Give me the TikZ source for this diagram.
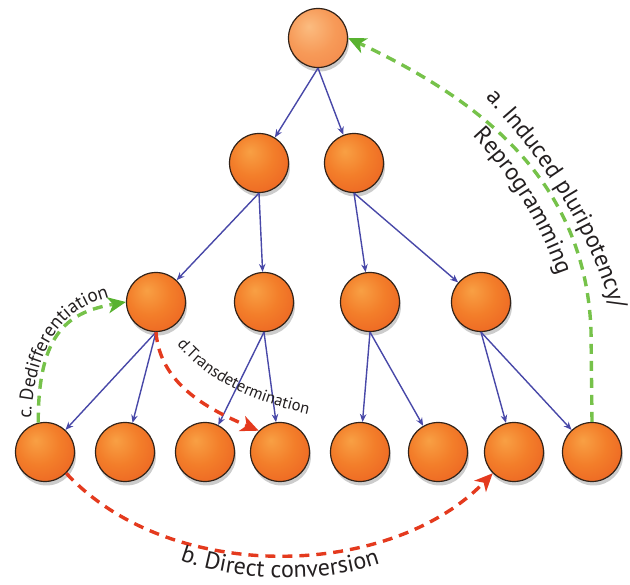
\documentclass[tikz,border=0pt]{standalone}
\usepackage{fontspec}
\setmainfont{PT Sans}
\usetikzlibrary{arrows.meta,decorations.text,shadows}
\definecolor{cellA}{RGB}{248,160,68}
\definecolor{cellB}{RGB}{243,126,42}
\definecolor{cellC}{RGB}{226,58,22}
\definecolor{topA}{RGB}{251,188,128}
\definecolor{topB}{RGB}{247,154,88}
\definecolor{topC}{RGB}{238,108,52}
\definecolor{edgeblue}{RGB}{72,72,168}
\definecolor{dgreen}{RGB}{118,194,74}
\definecolor{agreen}{RGB}{88,178,48}
\definecolor{dred}{RGB}{228,58,30}
\definecolor{outline}{RGB}{50,35,25}
\definecolor{txt}{RGB}{35,31,32}
\pgfdeclareradialshading{cellball}{\pgfpoint{-8bp}{10bp}}{color(0bp)=(cellA); color(18bp)=(cellB); color(64bp)=(cellC)}
\pgfdeclareradialshading{topball}{\pgfpoint{-8bp}{10bp}}{color(0bp)=(topA); color(20bp)=(topB); color(64bp)=(topC)}
\newcommand\fontA{\fontsize{24}{24}\selectfont\color{txt}}
\newcommand\fontB{\fontsize{24}{24}\selectfont\color{txt}}
\newcommand\fontC{\fontsize{19}{19}\selectfont\color{txt}}
\newcommand\fontD{\fontsize{16.5}{16.5}\selectfont\color{txt}}
\tikzset{
  cell/.style={circle, minimum size=59pt, inner sep=0pt, draw=outline, line width=1.2pt,
    shading=cellball, drop shadow={shadow xshift=1.5pt, shadow yshift=-4pt, opacity=0.2, fill=black}},
  topcell/.style={cell, shading=topball},
  link/.style={draw=edgeblue, line width=1.4pt, -{Stealth[length=8pt,width=6.5pt]}},
  gpath/.style={draw=dgreen, line width=3.4pt, dash pattern=on 10pt off 7pt,
    -{Stealth[length=18pt,width=16pt,inset=5pt,color=agreen]}},
  rpath/.style={draw=dred, line width=3.4pt, dash pattern=on 10pt off 7pt,
    -{Stealth[length=18pt,width=16pt,inset=5pt,color=dred]}},
  curvetext/.style={decorate, decoration={text along path, text align=center, text={#1}}},
}
\begin{document}
\begin{tikzpicture}[x=1pt,y=1pt]
\useasboundingbox (0,0) rectangle (630,-585);
% cells
\node[topcell] (t) at (318,-38) {};
\node[cell] (b1) at (259,-163) {};
\node[cell] (b2) at (354,-163) {};
\node[cell] (c1) at (156,-302) {};
\node[cell] (c2) at (264,-302) {};
\node[cell] (c3) at (370,-302) {};
\node[cell] (c4) at (481,-302) {};
\node[cell] (d1) at (45,-452) {};
\node[cell] (d2) at (125,-452) {};
\node[cell] (d3) at (205,-452) {};
\node[cell] (d4) at (280,-452) {};
\node[cell] (d5) at (360,-452) {};
\node[cell] (d6) at (438,-452) {};
\node[cell] (d7) at (514,-452) {};
\node[cell] (d8) at (592,-452) {};
% lineage links
\draw[link] (t.south) -- (b1);
\draw[link] (t.south) -- (b2);
\draw[link] (b1.south) -- (c1);
\draw[link] (b1.south) -- (c2);
\draw[link] (b2.south) -- (c3);
\draw[link] (b2.south) -- (c4);
\draw[link] (c1.south) -- (d1);
\draw[link] (c1.south) -- (d2);
\draw[link] (c2.south) -- (d3);
\draw[link] (c2.south) -- (d4);
\draw[link] (c3.south) -- (d5);
\draw[link] (c3.south) -- (d6);
\draw[link] (c4.south) -- (d7);
\draw[link] (c4.south) -- (d8);
% a. induced pluripotency
\draw[gpath] (d8.north) -- (591,-330) .. controls (585,-180) and (480,-100) .. (t.east);
% c. dedifferentiation
\draw[gpath] (d1.103) .. controls (38,-330) and (70,-312) .. (c1.west);
% d. transdetermination
\draw[rpath] (c1.south) .. controls (160,-385) and (210,-410) .. (d4.135);
% b. direct conversion
\draw[rpath] (d1.-45) .. controls (170,-585) and (390,-580) .. (d7.225);
% labels
\path[curvetext={|\fontA|a. Induced pluripotency/}] (460,-72) .. controls (540,-150) and (600,-240) .. (620,-345);
\path[curvetext={|\fontA|Reprogramming}] (448,-112) .. controls (500,-160) and (545,-220) .. (568,-308);
\path[curvetext={|\fontC|c. Dedifferentiation}] (30,-445) .. controls (30,-330) and (72,-300) .. (135,-292);
\path[curvetext={|\fontD|d.Transdetermination}] (166,-330) .. controls (198,-378) and (250,-403) .. (326,-418);
\path[curvetext={|\fontB|b. Direct conversion}] (158,-551) .. controls (230,-586) and (340,-586) .. (402,-555);
\end{tikzpicture}
\end{document}
